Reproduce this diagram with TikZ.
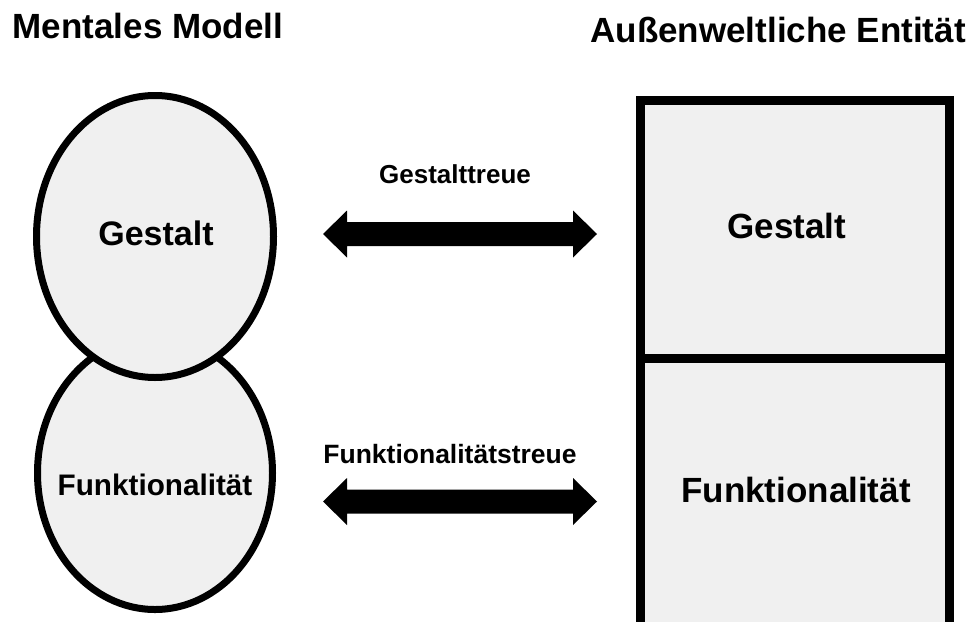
\documentclass[tikz,border=0pt]{standalone}
\usepackage{fontspec}
\setmainfont{Liberation Sans}
\usetikzlibrary{shapes.geometric}
\definecolor{cellgray}{HTML}{F0F0F0}
\begin{document}
\begin{tikzpicture}[x=1pt,y=-1pt,
  lbl/.style={font=\bfseries\fontsize{#1pt}{#1pt}\selectfont,anchor=base,inner sep=0pt},
  oval/.style={ellipse,draw=black,fill=cellgray,line width=7pt,inner sep=0pt},
  cell/.style={rectangle,draw=black,fill=cellgray,line width=9pt,inner sep=0pt,minimum width=309pt},
  bigarrow/.style={fill=black}]
\useasboundingbox (0,0) rectangle (973,621);
\clip (0,0) rectangle (973,621);
% titles
\node[lbl=35] (tleft) at (148,38) {Mentales Modell};
\node[lbl=35] (tright) at (778,42) {Außenweltliche Entität};
% ellipses (bottom first)
\node[oval,minimum width=235pt,minimum height=273pt] (ebot) at (155,473) {};
\node[oval,minimum width=237pt,minimum height=282pt] (etop) at (155,236.5) {};
\node[lbl=34] (egest) at (156,245) {Gestalt};
\node[lbl=29.7] (efunk) at (155,495) {Funktionalität};
% box
\node[cell,minimum height=258.3pt] (btop) at (795,229.65) {};
\node[cell,minimum height=281.2pt] (bbot) at (795,499.4) {};
\node[lbl=35] (bgest) at (787,238) {Gestalt};
\node[lbl=35] (bfunk) at (796,502) {Funktionalität};
% arrow labels
\node[lbl=26] (lgt) at (455,183) {Gestalttreue};
\node[lbl=26.5] (lft) at (450,463) {Funktionalitätstreue};
% arrows
\coordinate (a1) at (460,234);
\coordinate (a2) at (460,501.5);
\fill[bigarrow] ([xshift=-137pt]a1) -- ++(24,-23.5) -- ++(0,11.5) -- ++(226,0) -- ++(0,-11.5)
  -- ++(24,23.5) -- ++(-24,23.5) -- ++(0,-11.5) -- ++(-226,0) -- ++(0,11.5) -- cycle;
\fill[bigarrow] ([xshift=-137pt]a2) -- ++(24,-23.5) -- ++(0,11.5) -- ++(226,0) -- ++(0,-11.5)
  -- ++(24,23.5) -- ++(-24,23.5) -- ++(0,-11.5) -- ++(-226,0) -- ++(0,11.5) -- cycle;
\end{tikzpicture}
\end{document}
